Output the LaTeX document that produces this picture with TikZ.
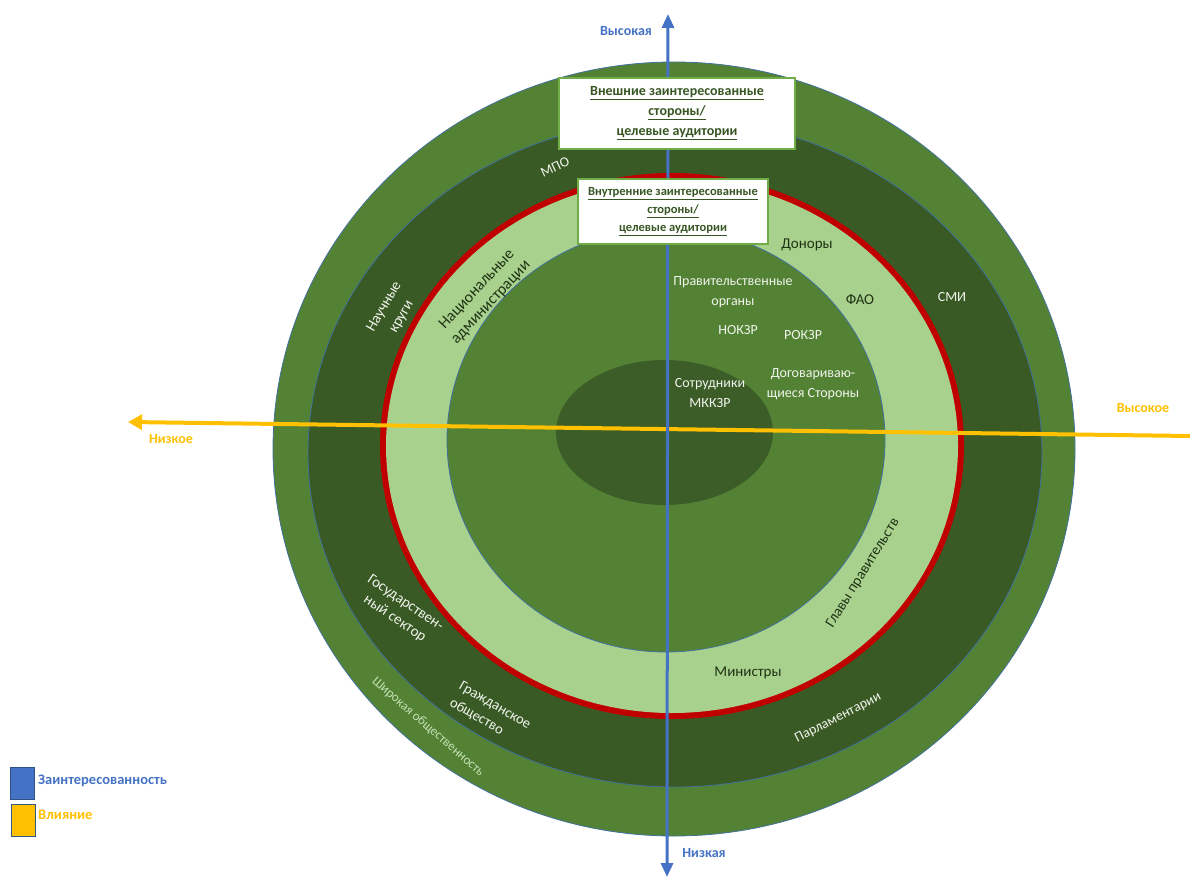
\documentclass[tikz,border=0pt]{standalone}
\usepackage{fontspec}
\setmainfont{Carlito}
\usetikzlibrary{arrows.meta}
\definecolor{outerg}{HTML}{548235}
\definecolor{darkg}{HTML}{3A5A25}
\definecolor{lightg}{HTML}{A9D18E}
\definecolor{innerg}{HTML}{548235}
\definecolor{coreg}{HTML}{3D5D28}
\definecolor{redr}{HTML}{C00000}
\definecolor{edgec}{HTML}{41719C}
\definecolor{axblue}{HTML}{4472C4}
\definecolor{axyel}{HTML}{FFC000}
\definecolor{boxg}{HTML}{70AD47}
\definecolor{boxtxt}{HTML}{375623}
\definecolor{darktxt}{HTML}{1F3314}
\definecolor{lighttxt}{HTML}{F0F4EC}
\definecolor{palegtxt}{HTML}{C5E0B4}
\begin{document}
\begin{tikzpicture}[x=1pt,y=-1pt,
  ring/.style={draw=edgec, line width=0.8pt},
  wl/.style={text=lighttxt, font=\fontsize{14}{20}\selectfont, align=center, inner sep=0pt},
  dl/.style={text=darktxt, font=\fontsize{15}{20}\selectfont, align=center, inner sep=0pt},
  axisb/.style={draw=axblue, line width=3pt, {Triangle[length=14pt,width=12pt]}-{Triangle[length=14pt,width=12pt]}},
  axisy/.style={draw=axyel, line width=4pt, -{Triangle[length=14pt,width=15pt]}},
  axlab/.style={font=\bfseries\fontsize{14}{16}\selectfont, inner sep=0pt},
  infobox/.style={draw=boxg, line width=1.2pt, fill=white, text=boxtxt, align=center, inner sep=0pt},
  legsq/.style={line width=1pt, minimum width=24, minimum height=32, inner sep=0pt}
]
\useasboundingbox (0,0) rectangle (1190,877);
\fill[white] (0,0) rectangle (1190,877);
% rings
\filldraw[ring, fill=outerg] (674,449) ellipse [x radius=401, y radius=387];
\filldraw[ring, fill=darkg] (675,453) ellipse [x radius=367, y radius=334];
\fill[redr] (672,446) ellipse [x radius=292, y radius=273];
\fill[lightg] (672,446) ellipse [x radius=286, y radius=267];
\filldraw[ring, fill=innerg] (666,440) ellipse [x radius=219, y radius=212];
\fill[coreg] (664.5,432.5) ellipse [x radius=108.5, y radius=72.5];
% axes
\coordinate (yR) at (1190,436);
\coordinate (yL) at (128,422);
\coordinate (bT) at (668,14);
\coordinate (bB) at (667,877);
\draw[axisy] (yR) -- (yL);
\draw[axisb] (bB) -- (bT);
% boxes
\node[infobox, minimum width=236, minimum height=71, font=\bfseries\fontsize{14}{20}\selectfont] (ext) at (677,113.5)
  {\underline{Внешние заинтересованные}\\\underline{стороны/}\\\underline{целевые аудитории}};
\node[infobox, minimum width=190, minimum height=65, font=\bfseries\fontsize{12.5}{18}\selectfont] (int) at (673,211.5)
  {\underline{Внутренние заинтересованные}\\\underline{стороны/}\\\underline{целевые аудитории}};
% axis labels
\node[axlab, text=axblue] (hiB) at (626,31) {Высокая};
\node[axlab, text=axblue] (loB) at (704,853) {Низкая};
\node[axlab, text=axyel] (loY) at (171,439) {Низкое};
\node[axlab, text=axyel] (hiY) at (1143,408) {Высокое};
% legend
\node[legsq, draw=axblue!70!black, fill=axblue] (lgB) at (22,783) {};
\node[legsq, draw=edgec!80!black, fill=axyel] (lgY) at (23,820.5) {};
\node[axlab, text=axblue, anchor=west, font=\bfseries\fontsize{14.5}{16}\selectfont] (lgBt) at (38,781) {Заинтересованность};
\node[axlab, text=axyel, anchor=west, font=\bfseries\fontsize{14.5}{16}\selectfont] (lgYt) at (38,815) {Влияние};
% ring labels
\node[wl, rotate=25] (mpo) at (555,167) {МПО};
\node[wl, rotate=60, font=\fontsize{15}{20}\selectfont] (sci) at (393,312) {Научные\\круги};
\node[dl, rotate=47, font=\fontsize{16}{19}\selectfont] (nat) at (484,296) {Национальные\\администрации};
\node[dl] (don) at (807,245) {Доноры};
\node[wl] (gov) at (733,292) {Правительственные\\органы};
\node[dl] (fao) at (860,300) {ФАО};
\node[wl] (smi) at (952,297) {СМИ};
\node[wl] (nok) at (738,330) {НОКЗР};
\node[wl] (rok) at (803,335) {РОКЗР};
\node[wl] (cp) at (813,384) {Договариваю-\\щиеся Стороны};
\node[wl] (ipp) at (710,393) {Сотрудники\\МККЗР};
\node[wl, rotate=-34, font=\fontsize{15}{19}\selectfont] (pub) at (400,611) {Государствен-\\ный сектор};
\node[wl, rotate=-30, align=left, font=\fontsize{14.5}{19}\selectfont] (civ) at (490,714) {Гражданское\\общество};
\node[wl, rotate=-41, text=palegtxt, font=\fontsize{13}{16}\selectfont] (gen) at (428,727) {Широкая общественность};
\node[dl, rotate=58] (heads) at (863,573) {Главы правительств};
\node[dl] (min) at (748,673) {Министры};
\node[wl, rotate=27] (parl) at (838,718) {Парламентарии};
\end{tikzpicture}
\end{document}
